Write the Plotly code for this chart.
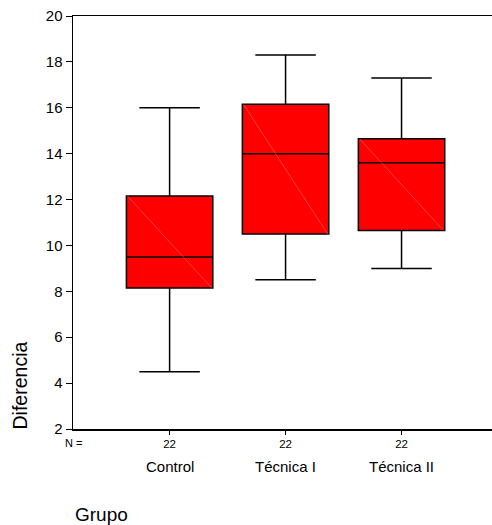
import plotly.graph_objects as go

# ---- data ----
categories = ["Control", "Técnica I", "Técnica II"]
n_counts = [22, 22, 22]
lower_whisker = [4.5, 8.5, 9.0]
q1_values = [8.15, 10.5, 10.65]
median_values = [9.5, 14.0, 13.6]
q3_values = [12.15, 16.15, 14.65]
upper_whisker = [16.0, 18.3, 17.3]
y_ticks = [2, 4, 6, 8, 10, 12, 14, 16, 18, 20]

FONT = "Liberation Sans, Arial, sans-serif"
BOX_W = 0.745
pos = list(range(len(categories)))

fig = go.Figure()
fig.add_trace(go.Box(
    x=pos,
    q1=q1_values,
    median=median_values,
    q3=q3_values,
    lowerfence=lower_whisker,
    upperfence=upper_whisker,
    width=BOX_W,
    whiskerwidth=0.7,
    fillcolor="#ff0000",
    line=dict(color="black", width=1.5),
    boxpoints=False,
    showlegend=False,
    hoverinfo="skip",
))

# faint diagonal inside each box (top-left to bottom-right)
for i in pos:
    fig.add_trace(go.Scatter(
        x=[i - BOX_W / 2 + 0.01, i + BOX_W / 2 - 0.01],
        y=[q3_values[i], q1_values[i]],
        mode="lines",
        line=dict(color="#ff6a6a", width=0.6),
        showlegend=False,
        hoverinfo="skip",
    ))

annotations = []
for i, c in enumerate(categories):
    annotations.append(dict(
        x=i, y=-0.092, xref="x", yref="paper", text=c, showarrow=False,
        xanchor="center", yanchor="middle", font=dict(family=FONT, size=15, color="black"),
    ))
annotations.append(dict(
    x=0, y=-0.034, xref="paper", yref="paper", text="N =", showarrow=False,
    xanchor="center", yanchor="middle", font=dict(family=FONT, size=11, color="black"),
))
annotations.append(dict(
    x=0, y=-0.2065, xref="paper", yref="paper", text="Grupo", showarrow=False,
    xanchor="left", yanchor="middle", font=dict(family=FONT, size=19, color="black"),
))
annotations.append(dict(
    x=-0.1254, y=0.1065, xref="paper", yref="paper", text="Diferencia", showarrow=False,
    textangle=-90, xanchor="center", yanchor="middle",
    font=dict(family=FONT, size=19.5, color="black"),
))

fig.update_layout(
    width=492, height=525,
    margin=dict(l=73, r=0, t=16, b=96),
    paper_bgcolor="white", plot_bgcolor="white",
    font=dict(family=FONT, color="black"),
    annotations=annotations,
    xaxis=dict(
        range=[-0.833, 2.78],
        tickvals=pos, ticktext=[str(n) for n in n_counts],
        tickfont=dict(family=FONT, size=11.5, color="black"),
        ticks="outside", ticklen=4, tickwidth=1, tickcolor="black",
        showline=True, linecolor="black", linewidth=1.5, mirror=True,
        showgrid=False, zeroline=False,
    ),
    yaxis=dict(
        range=[2, 20], tickvals=y_ticks,
        tickfont=dict(family=FONT, size=15, color="black"),
        ticks="outside", ticklen=6, tickwidth=1, tickcolor="black",
        showline=True, linecolor="black", linewidth=1.5,
        showgrid=False, zeroline=False,
    ),
)

fig.write_html(
    "out.html",
    config={"displayModeBar": False, "staticPlot": True},
    post_script="document.body.style.margin='0';document.body.style.overflow='hidden';",
)
